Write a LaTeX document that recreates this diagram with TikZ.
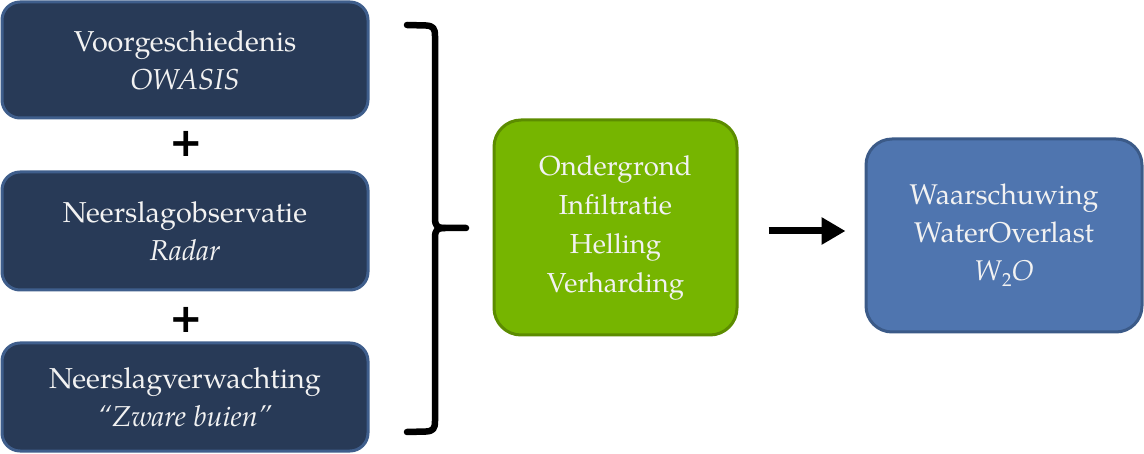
\documentclass[tikz,border=0pt]{standalone}
\usepackage{fontspec}
\setmainfont{texgyrepagella}[Extension=.otf,UprightFont=*-regular,ItalicFont=*-italic,BoldFont=*-bold,BoldItalicFont=*-bolditalic]
\newfontfamily\plusfont{DejaVu Sans}
\usetikzlibrary{arrows.meta}
\definecolor{darkfill}{HTML}{283A57}
\definecolor{darkline}{HTML}{3F5E8C}
\definecolor{greenfill}{HTML}{76B500}
\definecolor{greenline}{HTML}{5C8C00}
\definecolor{bluefill}{HTML}{4F75AF}
\definecolor{blueline}{HTML}{3B5A88}
\definecolor{txt}{HTML}{F2F2F2}
\tikzset{
  box/.style={rectangle, line width=3pt, text=txt, align=center, inner sep=0pt},
  leftbox/.style={box, rounded corners=18pt, fill=darkfill, draw=darkline, minimum width=366pt,
    font=\fontsize{28.8}{38}\selectfont},
  greenbox/.style={box, rounded corners=27pt, fill=greenfill, draw=greenline, minimum width=243pt, minimum height=215pt,
    font=\fontsize{27.5}{39}\selectfont},
  bluebox/.style={box, rounded corners=26pt, fill=bluefill, draw=blueline, minimum width=276pt, minimum height=193pt,
    font=\fontsize{28.5}{38}\selectfont},
  plus/.style={font=\plusfont\bfseries\fontsize{40}{40}\selectfont, inner sep=0pt},
  brace/.style={line width=6.5pt, line cap=round, line join=round},
  bigarrow/.style={line width=7pt, -{Triangle[length=24pt,width=26pt]}}
}
\begin{document}
\begin{tikzpicture}[x=1pt,y=-1pt]
\useasboundingbox (0,0) rectangle (1144,454);
\node[leftbox, minimum height=116pt] (b1) at (185,60) {Voorgeschiedenis\\\textit{OWASIS}};
\node[leftbox, minimum height=118pt] (b2) at (185,231) {Neerslagobservatie\\\textit{Radar}};
\node[leftbox, minimum height=108pt] (b3) at (185,397) {Neerslagverwachting\\\textit{``Zware buien''}};
\node[plus] (p1) at (186,144) {+};
\node[plus] (p2) at (186,320) {+};
\draw[brace] (407,25) -- (426,25.5) .. controls (433,26) and (435,28) .. (435,36)
  -- (435,218) .. controls (435,226) and (437,228) .. (445,228) -- (466,228);
\draw[brace] (407,432) -- (426,431.5) .. controls (433,431) and (435,429) .. (435,421)
  -- (435,238) .. controls (435,230) and (437,228) .. (445,228);
\node[greenbox] (g) at (615.5,227.5) {Ondergrond\\Infiltratie\\Helling\\Verharding};
\node[bluebox] (w) at (1004,235.5) {Waarschuwing\\WaterOverlast\\\textit{W}\raisebox{-0.45ex}{\fontsize{19}{19}\selectfont 2}\textit{O}};
\draw[bigarrow, shorten <=30pt, shorten >=19pt] (g.east |- 0,231) -- (w.west |- 0,231);
\end{tikzpicture}
\end{document}
